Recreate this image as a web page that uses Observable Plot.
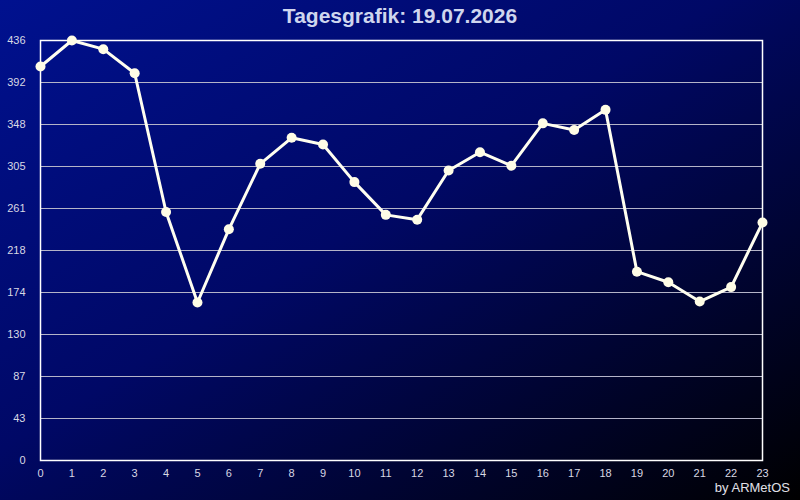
<!DOCTYPE html>
<html>
<head>
<meta charset="utf-8">
<script src="https://cdn.jsdelivr.net/npm/d3@7"></script>
<script src="https://cdn.jsdelivr.net/npm/@observablehq/plot@0.6"></script>
<style>
  html, body { margin: 0; padding: 0; background: #000; }
  #wrap { position: relative; width: 800px; height: 500px; overflow: hidden;
    background: linear-gradient(to bottom right, #00118f 0%, #000866 45%, #000000 100%); }
  #title { position: absolute; left: 0; top: 4px; width: 800px; text-align: center;
    font-family: "Liberation Sans", Arial, sans-serif; font-weight: bold; font-size: 21px; color: #cfd6ee; }
  #credit { position: absolute; right: 10px; top: 480px;
    font-family: "Liberation Sans", Arial, sans-serif; font-size: 13px; color: #e0e0e8; }
  #chart { position: absolute; left: 0; top: 0; }
</style>
</head>
<body>
<div id="wrap">
  <div id="chart"></div>
  <div id="title">Tagesgrafik: 19.07.2026</div>
  <div id="credit">by ARMetOS</div>
</div>
<script>
const hours = [0,1,2,3,4,5,6,7,8,9,10,11,12,13,14,15,16,17,18,19,20,21,22,23];
const values = [409,436,427,402,258,164,240,308,335,328,289,255,250,301,320,306,350,343,364,196,185,165,180,247];
const yTickValues = [0,43.6,87.2,130.8,174.4,218,261.6,305.2,348.8,392.4,436];
const yTickLabels = ["0","43","87","130","174","218","261","305","348","392","436"];

const data = hours.map((h, i) => ({hour: h, value: values[i]}));

const chart = Plot.plot({
  width: 800,
  height: 500,
  marginLeft: 40,
  marginRight: 38,
  marginTop: 40,
  marginBottom: 40,
  style: {background: "transparent", fontFamily: "Liberation Sans, Arial, sans-serif", fontSize: "11px", color: "#d8d8e4"},
  x: {domain: [0, 23], ticks: hours, tickFormat: d => String(d), tickSize: 0, tickPadding: 9, label: null},
  y: {domain: [0, 436], ticks: yTickValues, tickFormat: (d, i) => yTickLabels[i], tickSize: 0, tickPadding: 15, label: null},
  marks: [
    Plot.gridY(yTickValues, {stroke: "#b4b4c8", strokeOpacity: 1, strokeWidth: 1}),
    Plot.frame({stroke: "#ffffff", strokeWidth: 1.5}),
    Plot.axisX({ticks: hours, tickSize: 0, tickPadding: 9, tickFormat: d => String(d), fill: "#d8d8e4", label: null}),
    Plot.axisY({ticks: yTickValues, tickSize: 0, tickPadding: 15, tickFormat: (d, i) => yTickLabels[i], fill: "#d8d8e4", label: null}),
    Plot.line(data, {x: "hour", y: "value", stroke: "#fffff0", strokeWidth: 3}),
    Plot.dot(data, {x: "hour", y: "value", r: 5, fill: "#fffde6", stroke: "none"})
  ]
});
document.getElementById("chart").appendChild(chart);
</script>
</body>
</html>
